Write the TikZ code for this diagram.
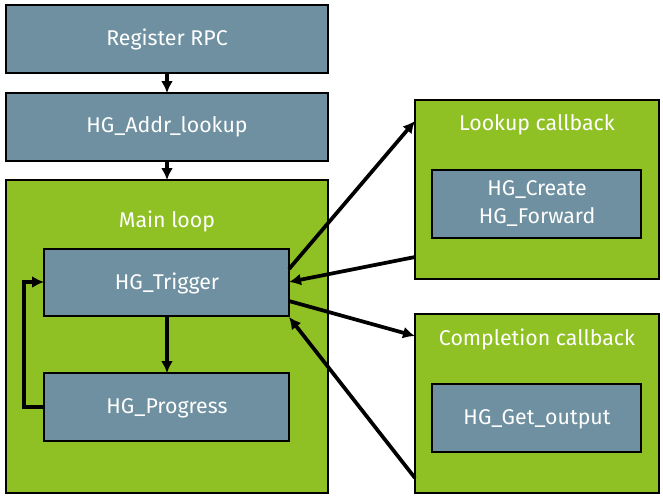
\documentclass[tikz,border=0pt]{standalone}
\usepackage{fontspec}
\setmainfont{Fira Sans}
\usetikzlibrary{arrows.meta}
\definecolor{boxblue}{RGB}{110,144,160}
\definecolor{boxgreen}{RGB}{143,193,36}
\tikzset{
  px/.style={x=0.75pt,y=-0.75pt},
  bluebox/.style={draw=black,line width=1.4pt,fill=boxblue},
  greenbox/.style={draw=black,line width=1.4pt,fill=boxgreen},
  lbl/.style={text=white,font=\fontsize{16}{21}\selectfont,align=center},
  arr/.style={line width=2.8pt,-{Latex[length=9pt,width=9pt]}},
}
\begin{document}
\begin{tikzpicture}[px]
\useasboundingbox (0,0) rectangle (663,497);
% boxes
\draw[bluebox] (6,5) rectangle (328,73);
\node[lbl] (reg) at (167,39) {Register RPC};
\coordinate (regB) at (167,73);
\draw[bluebox] (6,93) rectangle (328,161);
\node[lbl] (addr) at (167,127) {HG\_Addr\_lookup};
\coordinate (addrT) at (167,93);
\coordinate (addrB) at (167,161);
\draw[greenbox] (6,180) rectangle (328,493);
\node[lbl] (main) at (167,221) {Main loop};
\coordinate (mainT) at (167,180);
\draw[bluebox] (44,249) rectangle (289,316);
\node[lbl] (trig) at (167,283) {HG\_Trigger};
\draw[bluebox] (44,373) rectangle (289,441);
\node[lbl] (prog) at (167,408) {HG\_Progress};
\draw[greenbox] (415,100) rectangle (659,279);
\node[lbl] (lkt) at (537,125) {Lookup callback};
\draw[bluebox] (432,170) rectangle (641,238);
\node[lbl] (lk) at (537,204) {HG\_Create\\HG\_Forward};
\draw[greenbox] (415,314) rectangle (659,493);
\node[lbl] (cpt) at (537,339) {Completion callback};
\draw[bluebox] (432,384) rectangle (641,452);
\node[lbl] (cp) at (537,419) {HG\_Get\_output};
% connector points
\coordinate (trigB) at (167,316);
\coordinate (progT) at (167,373);
\coordinate (progL) at (44,407);
\coordinate (trigL) at (44,282);
\coordinate (trigR1) at (289,269);
\coordinate (trigR2) at (289,282);
\coordinate (trigR3) at (289,301);
\coordinate (trigR4) at (289,317);
\coordinate (lkIn) at (415,121);
\coordinate (lkOut) at (415,257);
\coordinate (cpIn) at (415,336);
\coordinate (cpOut) at (415,478);
% arrows
\draw[arr] (regB) -- (addrT);
\draw[arr] (addrB) -- (mainT);
\draw[arr] (trigB) -- (progT);
\draw[arr,line cap=butt] (progL) -- (24,407) -- (24,282) -- (trigL);
\draw[arr] (trigR1) -- (lkIn);
\draw[arr] (lkOut) -- (trigR2);
\draw[arr] (trigR3) -- (cpIn);
\draw[arr] (cpOut) -- (trigR4);
\end{tikzpicture}
\end{document}
